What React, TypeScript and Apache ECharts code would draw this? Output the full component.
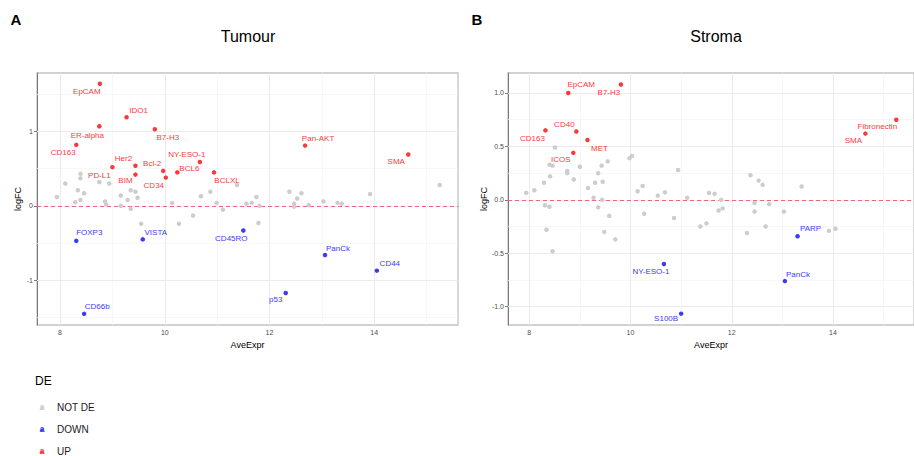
import React, { useEffect, useRef } from "react";
import * as echarts from "echarts";

// ---------- Data: Tumour ----------
const tumourUpNames = ["EpCAM", "IDO1", "B7-H3", "ER-alpha", "CD163", "Her2", "PD-L1", "BIM", "Bcl-2", "CD34", "BCL6", "NY-ESO-1", "BCLXL", "Pan-AKT", "SMA"];
const tumourUpExpr = [8.76, 9.27, 9.81, 8.75, 8.31, 9.44, 9.0, 9.44, 9.97, 10.02, 10.24, 10.67, 10.94, 12.68, 14.65];
const tumourUpLogFC = [1.64, 1.19, 1.03, 1.07, 0.82, 0.54, 0.52, 0.42, 0.47, 0.38, 0.45, 0.59, 0.45, 0.81, 0.69];

const tumourDownNames = ["FOXP3", "VISTA", "CD66b", "CD45RO", "PanCk", "CD44", "p53"];
const tumourDownExpr = [8.31, 9.58, 8.46, 11.5, 13.06, 14.05, 12.31];
const tumourDownLogFC = [-0.47, -0.45, -1.45, -0.33, -0.66, -0.87, -1.17];

const tumourNotDEExpr = [7.94, 8.1, 8.39, 8.39, 8.34, 8.46, 8.39, 8.29, 8.75, 8.94, 8.86, 8.88, 9.16, 9.35, 9.44, 9.29, 9.48, 9.16, 9.35, 9.55, 10.14, 10.27, 10.54, 10.69, 10.87, 11.11, 10.99, 11.38, 11.56, 11.66, 11.75, 11.81, 11.79, 12.38, 12.61, 12.53, 12.47, 12.47, 12.75, 13.03, 13.3, 13.38, 13.92, 15.25];
const tumourNotDELogFC = [0.12, 0.3, 0.43, 0.37, 0.21, 0.17, 0.08, 0.05, 0.32, 0.3, 0.06, 0.02, 0.14, 0.21, 0.19, 0.08, 0.11, 0.0, -0.04, -0.24, 0.04, -0.24, -0.13, 0.13, 0.19, -0.05, 0.04, 0.28, 0.03, 0.04, 0.12, 0.0, -0.23, 0.19, 0.17, 0.1, 0.03, -0.01, 0.01, 0.06, 0.04, 0.03, 0.16, 0.28];

// ---------- Data: Stroma ----------
const stromaUpNames = ["EpCAM", "B7-H3", "CD40", "CD163", "MET", "ICOS", "Fibronectin", "SMA"];
const stromaUpExpr = [8.77, 9.81, 8.93, 8.32, 9.15, 8.87, 15.25, 14.64];
const stromaUpLogFC = [1.0, 1.08, 0.64, 0.65, 0.56, 0.44, 0.75, 0.62];

const stromaDownNames = ["NY-ESO-1", "S100B", "PARP", "PanCk"];
const stromaDownExpr = [10.66, 11.0, 13.3, 13.05];
const stromaDownLogFC = [-0.6, -1.065, -0.34, -0.76];

const stromaNotDEExpr = [7.94, 8.1, 8.29, 8.41, 8.51, 8.4, 8.46, 8.31, 8.4, 8.34, 8.46, 8.75, 8.75, 8.88, 9.0, 9.16, 9.3, 9.36, 9.43, 9.55, 9.45, 9.27, 9.44, 9.36, 9.58, 9.48, 9.7, 9.98, 10.03, 10.14, 10.24, 10.27, 10.54, 10.68, 10.86, 10.94, 11.12, 11.38, 11.5, 11.55, 11.66, 11.79, 11.74, 11.82, 12.37, 12.53, 12.61, 12.45, 12.45, 12.74, 12.3, 12.67, 13.03, 13.38, 13.92, 14.05];
const stromaNotDELogFC = [0.065, 0.09, 0.16, 0.22, 0.49, 0.33, 0.32, -0.05, -0.065, -0.28, -0.48, 0.27, 0.25, 0.19, 0.31, 0.11, 0.16, 0.25, 0.32, 0.36, 0.17, 0.02, 0.0, -0.07, -0.15, -0.3, -0.37, 0.39, 0.41, 0.08, 0.13, -0.13, 0.04, 0.07, -0.17, 0.28, 0.02, -0.25, -0.22, 0.065, 0.056, 0.0, -0.1, -0.08, 0.23, 0.18, 0.14, -0.03, -0.11, -0.04, -0.31, -0.25, -0.11, 0.125, -0.29, -0.27];

// ---------- Ticks ----------
const xTicks = [8, 10, 12, 14];
const xMinor = [9, 11, 13, 15];
const tumourYTicks = [-1, 0, 1];
const tumourYMinor = [-1.5, -0.5, 0.5, 1.5];
const stromaYTicks = [-1, -0.5, 0, 0.5, 1];
const stromaYMinor = [-0.75, -0.25, 0.25, 0.75];

// ---------- Label placement (pixel offsets from point) ----------
const tumourLabelOffsets: Record<string, [number, number]> = {
  EpCAM: [-13, 8], IDO1: [12, -7], "B7-H3": [13, 8], "ER-alpha": [-12, 9], CD163: [-13, 8],
  Her2: [-12, -7], "PD-L1": [-13, 8], BIM: [-10, 6], "Bcl-2": [-11, -7], CD34: [-12, 8],
  BCL6: [12, -4], "NY-ESO-1": [-13, -7], BCLXL: [13, 8], "Pan-AKT": [13, -7], SMA: [-12, 7],
  FOXP3: [13, -8], VISTA: [13, -7], CD66b: [13, -7], CD45RO: [-12, 8], PanCk: [13, -7],
  CD44: [13, -7], p53: [-10, 7],
};
const stromaLabelOffsets: Record<string, [number, number]> = {
  EpCAM: [13, -8], "B7-H3": [-12, 8], CD40: [-12, -7], CD163: [-13, 8], MET: [12, 8],
  ICOS: [-12.5, 7], Fibronectin: [-19, 7], SMA: [-12, 7], "NY-ESO-1": [-13, 8],
  S100B: [-15, 5], PARP: [13, -8], PanCk: [13, -7],
};

const FONT = "'Liberation Sans', Arial, Helvetica, sans-serif";
const GRAY = "#cdcdcd";
const RED = "#f53c3c";
const BLUE = "#3c3cf5";

function labeled(names: string[], xs: number[], ys: number[], color: string, offsets: Record<string, [number, number]>) {
  return names.map((n, i) => ({
    value: [xs[i], ys[i]],
    name: n,
    label: {
      show: true,
      position: "inside",
      offset: offsets[n] || [0, 0],
      formatter: n,
      color,
      fontSize: 8,
      fontFamily: FONT,
    },
  }));
}

function plain(xs: number[], ys: number[]) {
  return xs.map((x, i) => [x, ys[i]]);
}

function gridLineSeries(idx: number, yMajor: number[], yMinor: number[]) {
  const major = { color: "#ebebeb", width: 1, type: "solid" };
  const minor = { color: "#f3f3f3", width: 0.7, type: "solid" };
  return {
    type: "scatter",
    name: "grid" + idx,
    xAxisIndex: idx,
    yAxisIndex: idx,
    data: [],
    z: 1,
    silent: true,
    markLine: {
      z: 1,
      silent: true,
      symbol: ["none", "none"],
      label: { show: false },
      animation: false,
      data: [
        ...xMinor.map((v) => ({ xAxis: v, lineStyle: minor })),
        ...yMinor.map((v) => ({ yAxis: v, lineStyle: minor })),
        ...xTicks.map((v) => ({ xAxis: v, lineStyle: major })),
        ...yMajor.map((v) => ({ yAxis: v, lineStyle: major })),
        { yAxis: 0, lineStyle: { color: "#f0667a", width: 1.2, type: [4, 3] } },
      ],
    },
  };
}

function xAxisFor(idx: number, min: number, max: number) {
  return {
    type: "value",
    gridIndex: idx,
    min,
    max,
    name: "AveExpr",
    nameLocation: "middle",
    nameGap: 15,
    nameTextStyle: { fontSize: 9, color: "#000", fontFamily: FONT },
    axisLine: { show: true, lineStyle: { color: "#7a7a7a", width: 1 } },
    axisTick: { show: true, length: 3, lineStyle: { color: "#7a7a7a" }, customValues: xTicks },
    axisLabel: {
      fontSize: 7,
      color: "#4d4d4d",
      margin: 4,
      fontFamily: FONT,
      customValues: xTicks,
      formatter: (v: number) => (xTicks.some((t) => Math.abs(t - v) < 1e-9) ? String(v) : ""),
    },
    splitLine: { show: false },
  };
}

function yAxisFor(idx: number, min: number, max: number, ticks: number[], decimals: number) {
  return {
    type: "value",
    gridIndex: idx,
    min,
    max,
    name: "logFC",
    nameLocation: "middle",
    nameGap: 14,
    nameRotate: 90,
    nameTextStyle: { fontSize: 9, color: "#000", fontFamily: FONT },
    axisLine: { show: true, onZero: false, lineStyle: { color: "#7a7a7a", width: 1 } },
    axisTick: { show: true, length: 3, lineStyle: { color: "#7a7a7a" }, customValues: ticks },
    axisLabel: {
      fontSize: 7,
      color: "#4d4d4d",
      margin: 4,
      fontFamily: FONT,
      customValues: ticks,
      formatter: (v: number) => (ticks.some((t) => Math.abs(t - v) < 1e-9) ? v.toFixed(decimals) : ""),
    },
    splitLine: { show: false },
  };
}

function pointSeries(idx: number, name: string, color: string, data: any[], z: number) {
  return {
    type: "scatter",
    name,
    xAxisIndex: idx,
    yAxisIndex: idx,
    symbol: "circle",
    symbolSize: 4.5,
    itemStyle: { color, opacity: 1 },
    data,
    z,
  };
}

const legendItems: [string, string, number][] = [
  ["NOT DE", GRAY, 407],
  ["DOWN", BLUE, 429],
  ["UP", RED, 451],
];

export default function App() {
  const ref = useRef<HTMLDivElement>(null);
  useEffect(() => {
    if (!ref.current) return;
    const chart = echarts.init(ref.current, undefined, { renderer: "svg" });
    const graphic: any[] = [
      { type: "text", x: 16, y: 19, style: { text: "A", fill: "#000", font: `bold 15px ${FONT}`, align: "center", verticalAlign: "middle", textAlign: "center", textVerticalAlign: "middle" } },
      { type: "text", x: 477, y: 19, style: { text: "B", fill: "#000", font: `bold 15px ${FONT}`, align: "center", verticalAlign: "middle", textAlign: "center", textVerticalAlign: "middle" } },
      { type: "text", x: 248, y: 36, style: { text: "Tumour", fill: "#000", font: `16px ${FONT}`, align: "center", verticalAlign: "middle", textAlign: "center", textVerticalAlign: "middle" } },
      { type: "text", x: 716, y: 36, style: { text: "Stroma", fill: "#000", font: `16px ${FONT}`, align: "center", verticalAlign: "middle", textAlign: "center", textVerticalAlign: "middle" } },
      { type: "text", x: 35, y: 381, style: { text: "DE", fill: "#000", font: `12px ${FONT}`, align: "left", verticalAlign: "middle", textAlign: "left", textVerticalAlign: "middle" } },
    ];
    legendItems.forEach(([label, color, y]) => {
      graphic.push({ type: "text", x: 42, y: y, style: { text: "a", fill: color, font: `bold 9px ${FONT}`, align: "center", verticalAlign: "middle", textAlign: "center", textVerticalAlign: "middle" } });
      graphic.push({ type: "circle", shape: { cx: 42, cy: y + 1, r: 1.6 }, style: { fill: color } });
      graphic.push({ type: "text", x: 57, y: y, style: { text: label, fill: "#1a1a1a", font: `10px ${FONT}`, align: "left", verticalAlign: "middle", textAlign: "left", textVerticalAlign: "middle" } });
    });

    const option: any = {
      animation: false,
      textStyle: { fontFamily: FONT },
      grid: [
        { left: 37, top: 73, width: 421, height: 252, show: true, borderColor: "#c4c4c4", borderWidth: 1.3, backgroundColor: "#fff", containLabel: false },
        { left: 508, top: 73, width: 415, height: 252, show: true, borderColor: "#c4c4c4", borderWidth: 1.3, backgroundColor: "#fff", containLabel: false },
      ],
      xAxis: [xAxisFor(0, 7.56, 15.6), xAxisFor(1, 7.58, 15.6)],
      yAxis: [yAxisFor(0, -1.6, 1.785, tumourYTicks, 0), yAxisFor(1, -1.171, 1.187, stromaYTicks, 1)],
      graphic,
      series: [
        gridLineSeries(0, tumourYTicks, tumourYMinor),
        gridLineSeries(1, stromaYTicks, stromaYMinor),
        pointSeries(0, "NOT DE", GRAY, plain(tumourNotDEExpr, tumourNotDELogFC), 2),
        pointSeries(1, "NOT DE", GRAY, plain(stromaNotDEExpr, stromaNotDELogFC), 2),
        pointSeries(0, "DOWN", BLUE, labeled(tumourDownNames, tumourDownExpr, tumourDownLogFC, BLUE, tumourLabelOffsets), 4),
        pointSeries(0, "UP", RED, labeled(tumourUpNames, tumourUpExpr, tumourUpLogFC, RED, tumourLabelOffsets), 4),
        pointSeries(1, "DOWN", BLUE, labeled(stromaDownNames, stromaDownExpr, stromaDownLogFC, BLUE, stromaLabelOffsets), 4),
        pointSeries(1, "UP", RED, labeled(stromaUpNames, stromaUpExpr, stromaUpLogFC, RED, stromaLabelOffsets), 4),
      ],
    };
    chart.setOption(option);
    return () => chart.dispose();
  }, []);
  return (
    <div
      ref={ref}
      style={{ position: "fixed", left: 0, top: 0, width: 914, height: 456, background: "#fff" }}
    />
  );
}
